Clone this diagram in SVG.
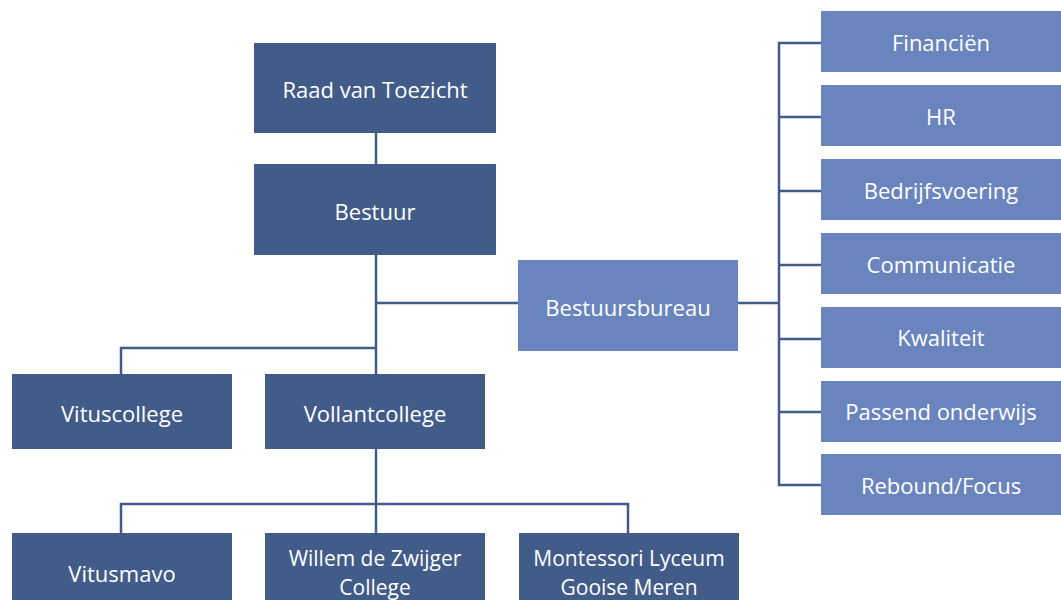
<svg xmlns="http://www.w3.org/2000/svg" width="1061" height="600" viewBox="0 0 1061 600">
<style>
.d{fill:#425C89}
.l{fill:#6A85BD}
text{font-family:"Open Sans","Liberation Sans",sans-serif;font-size:22px;font-weight:500;fill:#ffffff;text-anchor:middle;dominant-baseline:central}
text.s{font-size:21px}
.c{fill:none;stroke:#425C89;stroke-width:2.5}
</style>
<rect width="1061" height="600" fill="#ffffff"/>
<g id="connectors" class="c">
<path d="M376 133V164"/>
<path d="M376 255V374"/>
<path d="M376 303H518"/>
<path d="M121 374V348H376"/>
<path d="M376 449V533"/>
<path d="M121 533V504H628V533"/>
<path d="M738 303H779"/>
<path d="M821 43H779V485H821"/>
<path d="M779 117H821M779 191H821M779 265H821M779 339H821M779 412H821"/>
</g>
<g id="raad"><rect class="d" x="254" y="43" width="242" height="90"/><text x="375" y="89">Raad van Toezicht</text></g>
<g id="bestuur"><rect class="d" x="254" y="164" width="242" height="91"/><text x="375" y="211">Bestuur</text></g>
<g id="bestuursbureau"><rect class="l" x="518" y="260" width="220" height="91"/><text x="628" y="307">Bestuursbureau</text></g>
<g id="vituscollege"><rect class="d" x="12" y="374" width="220" height="75"/><text x="122" y="413">Vituscollege</text></g>
<g id="vollantcollege"><rect class="d" x="265" y="374" width="220" height="75"/><text x="375" y="413">Vollantcollege</text></g>
<g id="vitusmavo"><rect class="d" x="12" y="533" width="220" height="80"/><text x="122" y="573">Vitusmavo</text></g>
<g id="willem"><rect class="d" x="265" y="533" width="220" height="80"/><text class="s" x="375" y="558">Willem de Zwijger</text><text class="s" x="375" y="587">College</text></g>
<g id="montessori"><rect class="d" x="519" y="533" width="220" height="80"/><text class="s" x="629" y="558">Montessori Lyceum</text><text class="s" x="629" y="587">Gooise Meren</text></g>
<g id="financien"><rect class="l" x="821" y="11" width="250" height="61"/><text x="941" y="42">Financiën</text></g>
<g id="hr"><rect class="l" x="821" y="85" width="250" height="61"/><text x="941" y="116">HR</text></g>
<g id="bedrijfsvoering"><rect class="l" x="821" y="159" width="250" height="61"/><text x="941" y="190">Bedrijfsvoering</text></g>
<g id="communicatie"><rect class="l" x="821" y="233" width="250" height="61"/><text x="941" y="264">Communicatie</text></g>
<g id="kwaliteit"><rect class="l" x="821" y="307" width="250" height="61"/><text x="941" y="337">Kwaliteit</text></g>
<g id="passend"><rect class="l" x="821" y="381" width="250" height="61"/><text x="941" y="411">Passend onderwijs</text></g>
<g id="rebound"><rect class="l" x="821" y="454" width="250" height="61"/><text x="941" y="485">Rebound/Focus</text></g>
</svg>
